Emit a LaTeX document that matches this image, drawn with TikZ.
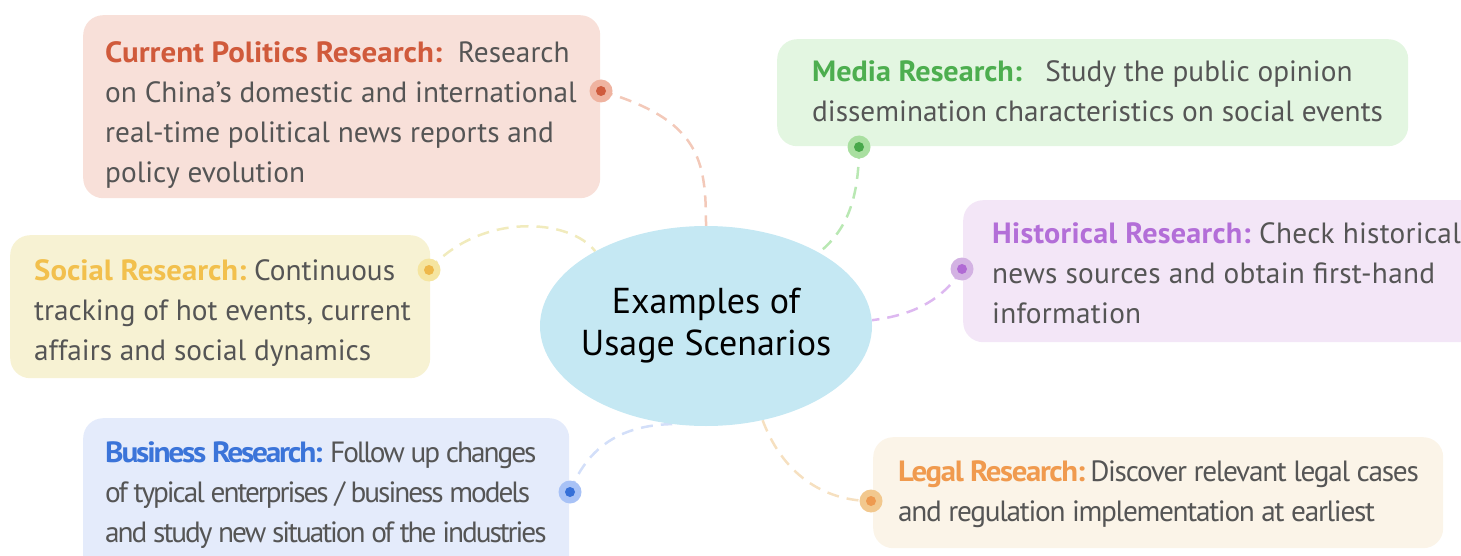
\documentclass[tikz,border=0pt]{standalone}
\usepackage{fontspec}
\usepackage{graphicx}
\setmainfont{PT Sans}
\usetikzlibrary{shapes.geometric,backgrounds}
\definecolor{txt}{HTML}{555555}
\definecolor{polF}{HTML}{F8E0D9}\definecolor{polT}{HTML}{D05A3B}\definecolor{polO}{HTML}{EFB3A0}\definecolor{polI}{HTML}{CF5B3D}\definecolor{polD}{HTML}{F3C9B9}
\definecolor{medF}{HTML}{E3F6E1}\definecolor{medT}{HTML}{4DAE4F}\definecolor{medO}{HTML}{A9DFA0}\definecolor{medI}{HTML}{48A84A}\definecolor{medD}{HTML}{B9E8B3}
\definecolor{hisF}{HTML}{F3E6F7}\definecolor{hisT}{HTML}{B36ED8}\definecolor{hisO}{HTML}{D3B2E3}\definecolor{hisI}{HTML}{B06AD4}\definecolor{hisD}{HTML}{DDB8F0}
\definecolor{socF}{HTML}{F7F2D3}\definecolor{socT}{HTML}{F2C04D}\definecolor{socO}{HTML}{F5E5A0}\definecolor{socI}{HTML}{EEB84A}\definecolor{socD}{HTML}{F1EBBD}
\definecolor{busF}{HTML}{E4EBFB}\definecolor{busT}{HTML}{3B74D9}\definecolor{busO}{HTML}{A8C2F6}\definecolor{busI}{HTML}{3670D8}\definecolor{busD}{HTML}{D3DFF9}
\definecolor{legF}{HTML}{FBF4E8}\definecolor{legT}{HTML}{F09A4E}\definecolor{legO}{HTML}{F2C88E}\definecolor{legI}{HTML}{EE9A50}\definecolor{legD}{HTML}{F6E0C0}
\definecolor{ctrF}{HTML}{C5E8F3}
\tikzset{
  card/.style={rounded corners=20pt, inner sep=0pt, anchor=north west},
  cardtext/.style={inner sep=0pt, anchor=north west, align=left, text=txt,
    font=\fontsize{29.3}{40}\selectfont},
  link/.style={line width=2.5pt, dash pattern=on 12pt off 8pt},
  dotout/.style={circle, inner sep=0pt, minimum size=23pt},
  dotin/.style={circle, inner sep=0pt, minimum size=10pt},
}
\newcommand{\fs}{\rule{0pt}{24pt}}
\newcommand{\ttl}[3]{\textcolor{#1}{\scalebox{#2}[1]{\textbf{#3}}}}
\begin{document}
\begin{tikzpicture}[x=1pt,y=-1pt]
\useasboundingbox (0,0) rectangle (1461,556);
% centre
\node[ellipse, fill=ctrF, minimum width=332pt, minimum height=200pt, inner sep=0pt] (c) at (706,326) {};
\node[align=center, inner sep=0pt, font=\fontsize{36}{42}\selectfont] (ct) at (c.center) {Examples of\\Usage Scenarios};
% dot coordinates
\coordinate (pd) at (601,91);
\coordinate (md) at (859,147);
\coordinate (hd) at (962,269);
\coordinate (sd) at (429,270);
\coordinate (bd) at (570,492);
\coordinate (ld) at (871,501);
% connectors
\begin{scope}[on background layer]
\draw[link, polD] (pd) .. controls (700,120) and (706,160) .. (c.90);
\draw[link, medD] (md) .. controls (859,210) and (840,235) .. (c.33);
\draw[link, hisD] (hd) .. controls (940,305) and (905,316) .. (c.2);
\draw[link, socD] (sd) .. controls (480,212) and (570,218) .. (c.146);
\draw[link, busD] (bd) .. controls (590,440) and (630,425) .. (c.251);
\draw[link, legD] (c.301) .. controls (785,480) and (830,501) .. (ld);
\end{scope}
% cards
\node[card, fill=polF, minimum width=517pt, minimum height=183pt] (pol) at (83,15) {};
\node[cardtext] (polt) at (105,38) {\fs\ttl{polT}{1.056}{Current Politics Research:}\ \ Research\\on China's domestic and international\\real-time political news reports and\\policy evolution};
\node[card, fill=medF, minimum width=631pt, minimum height=107pt] (med) at (777,39) {};
\node[cardtext] (medt) at (812,57) {\fs\ttl{medT}{1.03}{Media Research:}\ \ \ Study the public opinion\\dissemination characteristics on social events};
\node[card, fill=hisF, minimum width=520pt, minimum height=142pt] (his) at (963,200) {};
\node[cardtext, font=\fontsize{29.3}{40}\selectfont\addfontfeatures{LetterSpace=0.9}] (hist) at (992,219) {\fs\ttl{hisT}{1.03}{Historical Research:} Check historical\\news sources and obtain first-hand\\information};
\node[card, fill=socF, minimum width=420pt, minimum height=143pt] (soc) at (10,235) {};
\node[cardtext] (soct) at (34,256) {\fs\ttl{socT}{1.05}{Social Research:} Continuous\\tracking of hot events, current\\affairs and social dynamics};
\node[card, fill=busF, minimum width=486pt, minimum height=160pt] (bus) at (83,418) {};
\node[cardtext, font=\fontsize{29.3}{40}\selectfont\addfontfeatures{LetterSpace=-7}] (bust) at (105,438) {\fs\ttl{busT}{1.07}{Business Research:}\,\,Follow up changes\\of typical enterprises / business models\\and study new situation of the industries};
\node[card, fill=legF, minimum width=570pt, minimum height=111pt] (leg) at (873,437) {};
\node[cardtext, font=\fontsize{29.3}{40}\selectfont\addfontfeatures{LetterSpace=-4.4}] (legt) at (898,457) {\fs\ttl{legT}{1.05}{Legal Research:} Discover relevant legal cases\\and regulation implementation at earliest};
% dots
\foreach \p/\o/\i in {pd/polO/polI, md/medO/medI, hd/hisO/hisI, sd/socO/socI, bd/busO/busI, ld/legO/legI}{
  \node[dotout, fill=\o] (\p o) at (\p) {};
  \node[dotin, fill=\i] (\p i) at (\p) {};
}
\end{tikzpicture}
\end{document}
